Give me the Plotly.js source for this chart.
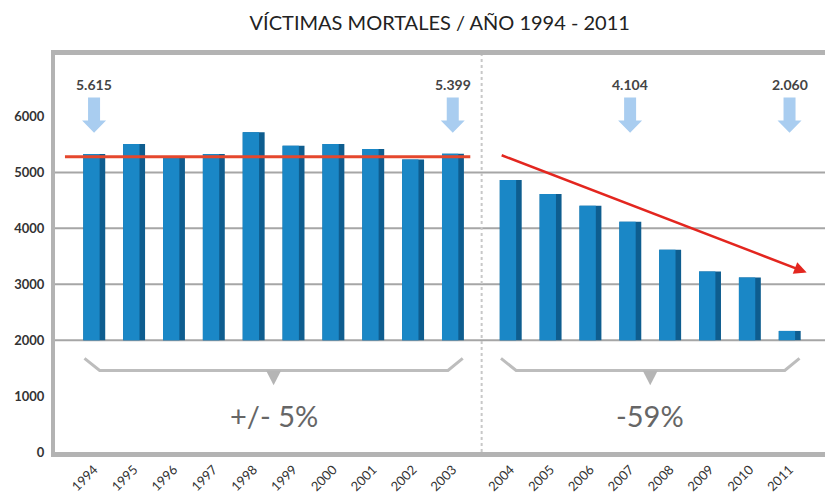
<!DOCTYPE html>
<html>
<head>
<meta charset="utf-8">
<script src="https://cdn.plot.ly/plotly-3.0.1.min.js"></script>
<style>html,body{margin:0;padding:0;background:#fff;}#chart{width:825px;height:494px;}</style>
</head>
<body>
<div id="chart"></div>
<script>
// ---- data ----
const years = ["1994","1995","1996","1997","1998","1999","2000","2001","2002","2003",
               "2004","2005","2006","2007","2008","2009","2010","2011"];
const deaths = [5330, 5510, 5265, 5330, 5720, 5475, 5510, 5420, 5230, 5335,
                4865, 4615, 4405, 4120, 3615, 3230, 3120, 2165];
const barBase = 2000;
const groupA = years.slice(0, 10);           // 1994-2003
const groupB = years.slice(10);              // 2004-2011
const calloutYears = ["1994", "2003", "2007", "2011"];
const calloutLabels = ["5.615", "5.399", "4.104", "2.060"];
const flatLevel = 5280;                      // horizontal red line, 1994-2003
const trendStart = 5317, trendEnd = 3211;    // red trend arrow, 2004-2011
const groupLabels = ["+/- 5%", "-59%"];
const yTicks = [0, 1000, 2000, 3000, 4000, 5000, 6000];
const gridValues = [2000, 3000, 4000, 5000];

// ---- positions (gap between the two periods) ----
const GAP = 0.45;
const pos = years.map((y, i) => i < groupA.length ? i : i + GAP);
const posOf = y => pos[years.indexOf(y)];
const heights = deaths.map(v => v - barBase);

const FONT = "Lato, 'Open Sans', sans-serif";

const traces = [
  { type: "bar", x: pos, y: heights, base: barBase, width: 0.55, offset: -0.27,
    marker: { color: "#0e5d8f" }, hoverinfo: "skip", showlegend: false },
  { type: "bar", x: pos, y: heights, base: barBase, width: 0.41, offset: -0.27,
    marker: { color: "#1a87c6" }, hoverinfo: "skip", showlegend: false }
];

const shapes = [];
gridValues.forEach(g => shapes.push({ type: "line", xref: "paper", x0: 0, x1: 1, yref: "y", y0: g, y1: g,
  line: { color: "#a6a6a6", width: 2 }, layer: "below" }));

// divider between periods
const divX = (pos[groupA.length - 1] + pos[groupA.length]) / 2;
shapes.push({ type: "line", xref: "x", x0: divX, x1: divX, yref: "paper", y0: 0, y1: 1,
  line: { color: "#c8c8c8", width: 2, dash: "dot" }, layer: "below" });

// flat red line
shapes.push({ type: "line", xref: "x", x0: pos[0] - 0.73, x1: pos[9] + 0.44, yref: "y", y0: flatLevel, y1: flatLevel,
  line: { color: "#e5472d", width: 3 }, layer: "above" });

// callout arrows
const AR_TOP = 6340, AR_NECK = 5930, AR_TIP = 5710;
calloutYears.forEach(y => shapes.push({ type: "path", xsizemode: "pixel", xanchor: posOf(y), xref: "x", yref: "y",
  path: `M-6,${AR_TOP} L6,${AR_TOP} L6,${AR_NECK} L12,${AR_NECK} L0,${AR_TIP} L-12,${AR_NECK} L-6,${AR_NECK} Z`,
  fillcolor: "#a9cdf0", line: { width: 0 }, layer: "above" }));

// brackets
const BR_END = 1673, BR_LINE = 1458, BR_NOTCH = 1195;
const groups = [[pos[0], pos[9]], [pos[10], pos[17]]];
groups.forEach(([a, b]) => {
  shapes.push({ type: "path", xref: "x", yref: "y",
    path: `M${a - 0.24},${BR_END} L${a + 0.14},${BR_LINE} L${b - 0.12},${BR_LINE} L${b + 0.25},${BR_END}`,
    line: { color: "#bdbdbd", width: 3 }, layer: "above" });
  const c = (a - 0.24 + b + 0.25) / 2;
  shapes.push({ type: "path", xref: "x", yref: "y",
    path: `M${c - 0.19},${BR_LINE} L${c + 0.19},${BR_LINE} L${c},${BR_NOTCH} Z`,
    fillcolor: "#b5b5b5", line: { width: 0 }, layer: "above" });
});

const annotations = [];
calloutYears.forEach((y, i) => annotations.push({ x: posOf(y), y: 6574, xref: "x", yref: "y",
  text: calloutLabels[i], showarrow: false, font: { family: FONT, size: 14, color: "#444", weight: "bold" } }));
groups.forEach(([a, b], i) => annotations.push({ x: (a + b) / 2 + 0.005, y: 653, xref: "x", yref: "y",
  text: groupLabels[i], showarrow: false, font: { family: FONT, size: 29, color: "#666" } }));
annotations.push({ x: pos[17] + 0.43, y: trendEnd, ax: pos[10] - 0.26, ay: trendStart,
  xref: "x", yref: "y", axref: "x", ayref: "y", text: "", showarrow: true,
  arrowhead: 2, arrowsize: 1, arrowwidth: 2.5, arrowcolor: "#e3261f" });

const layout = {
  width: 825, height: 494,
  margin: { l: 55, r: 0, t: 55, b: 42 },
  paper_bgcolor: "#fff", plot_bgcolor: "#fff",
  barmode: "overlay",
  title: { text: "VÍCTIMAS MORTALES / AÑO 1994 - 2011", xref: "container", x: 0.533, xanchor: "center",
    yref: "container", y: 0.953, yanchor: "middle", font: { family: FONT, size: 20, color: "#222" } },
  xaxis: { range: [-0.98, 18.34], tickvals: pos, ticktext: years, tickangle: -45,
    tickfont: { family: FONT, size: 13, color: "#333" }, showgrid: false, zeroline: false,
    showline: true, linecolor: "#b3b3b3", linewidth: 5, mirror: true, ticks: "", fixedrange: true },
  yaxis: { range: [0, 7100], tickvals: yTicks, ticktext: yTicks.map(String),
    tickfont: { family: FONT, size: 13, color: "#333", weight: "bold" }, showgrid: false, zeroline: false,
    showline: true, linecolor: "#b3b3b3", linewidth: 4, ticks: "", ticklabelstandoff: 4, fixedrange: true },
  shapes: shapes, annotations: annotations, showlegend: false
};

Plotly.newPlot("chart", traces, layout, { displayModeBar: false, staticPlot: true });
</script>
</body>
</html>
